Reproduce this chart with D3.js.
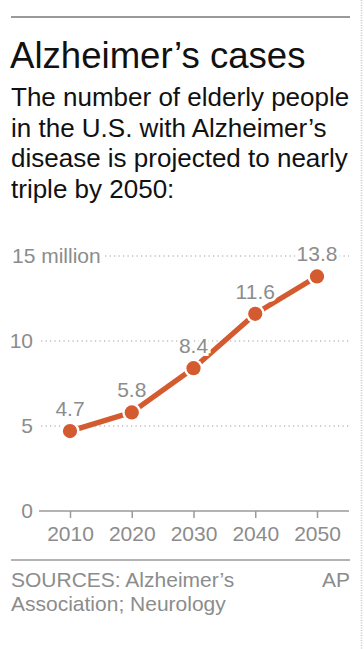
<!DOCTYPE html>
<html>
<head>
<meta charset="utf-8">
<script src="https://cdn.jsdelivr.net/npm/d3@7"></script>
<style>
  html, body { margin: 0; padding: 0; background: #fff; }
  svg { display: block; font-family: "Liberation Sans", Arial, sans-serif; }
</style>
</head>
<body>
<div id="chart"></div>
<script>
// data
var years = [2010, 2020, 2030, 2040, 2050];
var cases = [4.7, 5.8, 8.4, 11.6, 13.8]; // millions
var yTicks = [0, 5, 10, 15];
var subtitleLines = [
    "The number of elderly people",
    "in the U.S. with Alzheimer\u2019s",
    "disease is projected to nearly",
    "triple by 2050:"
];
var sourceLines = ["SOURCES: Alzheimer\u2019s", "Association; Neurology"];

var width = 364,
    height = 649,
    orange = "#d45a30",
    gray = "#8c8c8c",
    ruleGray = "#9a9a9a";

var svg = d3.select("#chart").append("svg")
    .attr("width", width)
    .attr("height", height);

// bordure pointillée à droite
svg.append("line")
    .attr("x1", 361.5).attr("x2", 361.5)
    .attr("y1", 0).attr("y2", height)
    .attr("stroke", "#c8c8c8")
    .attr("stroke-width", 1.5)
    .attr("stroke-dasharray", "1,1.5");

// filet du haut
svg.append("line")
    .attr("x1", 11).attr("x2", 350)
    .attr("y1", 17).attr("y2", 17)
    .attr("stroke", ruleGray)
    .attr("stroke-width", 2);

// titre
svg.append("text")
    .attr("x", 10)
    .attr("y", 68)
    .attr("font-size", 36.6)
    .attr("fill", "#111")
    .text("Alzheimer\u2019s cases");

svg.selectAll("text.sub")
    .data(subtitleLines)
    .enter()
    .append("text")
    .attr("class", "sub")
    .attr("x", 11)
    .attr("y", function(d, i) { return 106 + i * 30.7; })
    .attr("font-size", 26)
    .attr("fill", "#111")
    .text(function(d) { return d; });

// echelles
var x = d3.scaleLinear().domain([2010, 2050]).range([70, 317]);
var y = d3.scaleLinear().domain([0, 15]).range([511, 256]);

// grille pointillée
svg.selectAll("line.grid")
    .data(yTicks.filter(function(d) { return d > 0; }))
    .enter()
    .append("line")
    .attr("class", "grid")
    .attr("x1", function(d) { return d === 15 ? 105 : 41; })
    .attr("x2", 349)
    .attr("y1", function(d) { return y(d); })
    .attr("y2", function(d) { return y(d); })
    .attr("stroke", "#9c9c9c")
    .attr("stroke-width", 1.2)
    .attr("stroke-dasharray", "1.2,3.3");

// axe du zero
svg.append("line")
    .attr("x1", 39).attr("x2", 349)
    .attr("y1", y(0)).attr("y2", y(0))
    .attr("stroke", ruleGray)
    .attr("stroke-width", 1.5);

// axe y
var yAxis = svg.append("g")
    .attr("transform", "translate(36,0)")
    .call(d3.axisLeft(y).tickValues(yTicks).tickSize(0).tickPadding(3));
yAxis.select(".domain").remove();
yAxis.selectAll("text")
    .attr("font-size", 21)
    .attr("font-family", "Liberation Sans, Arial, sans-serif")
    .attr("fill", gray);
yAxis.selectAll(".tick")
    .filter(function(d) { return d === 15; })
    .select("text")
    .attr("text-anchor", "start")
    .attr("x", -24)
    .text("15 million");

// axe x
var xAxis = svg.append("g")
    .attr("transform", "translate(0," + y(0) + ")")
    .call(d3.axisBottom(x).tickValues(years).tickFormat(d3.format("d")).tickSize(7).tickPadding(8));
xAxis.select(".domain").remove();
xAxis.selectAll("line")
    .attr("stroke", ruleGray)
    .attr("stroke-width", 1.5);
xAxis.selectAll("text")
    .attr("font-size", 21)
    .attr("font-family", "Liberation Sans, Arial, sans-serif")
    .attr("fill", gray);

// ligne
var pts = years.map(function(yr, i) { return {year: yr, value: cases[i]}; });

var line = d3.line()
    .x(function(d) { return x(d.year); })
    .y(function(d) { return y(d.value); });

svg.append("path")
    .datum(pts)
    .attr("d", line)
    .attr("fill", "none")
    .attr("stroke", orange)
    .attr("stroke-width", 5.3);

// ronds avec halo blanc
svg.selectAll("circle.halo")
    .data(pts)
    .enter()
    .append("circle")
    .attr("class", "halo")
    .attr("cx", function(d) { return x(d.year); })
    .attr("cy", function(d) { return y(d.value); })
    .attr("r", 9.5)
    .attr("fill", "#fff");

svg.selectAll("circle.dot")
    .data(pts)
    .enter()
    .append("circle")
    .attr("class", "dot")
    .attr("cx", function(d) { return x(d.year); })
    .attr("cy", function(d) { return y(d.value); })
    .attr("r", 7.1)
    .attr("fill", orange);

// etiquettes de valeurs
svg.selectAll("text.val")
    .data(pts)
    .enter()
    .append("text")
    .attr("class", "val")
    .attr("x", function(d) { return x(d.year); })
    .attr("y", function(d) { return y(d.value) - 15; })
    .attr("text-anchor", "middle")
    .attr("font-size", 21)
    .attr("fill", gray)
    .attr("stroke", "#fff")
    .attr("stroke-width", 6)
    .attr("paint-order", "stroke")
    .text(function(d) { return d3.format(".1f")(d.value); });

// filet du bas + sources
svg.append("line")
    .attr("x1", 11).attr("x2", 350)
    .attr("y1", 560).attr("y2", 560)
    .attr("stroke", ruleGray)
    .attr("stroke-width", 1.5);

svg.selectAll("text.src")
    .data(sourceLines)
    .enter()
    .append("text")
    .attr("class", "src")
    .attr("x", 11)
    .attr("y", function(d, i) { return 587 + i * 24; })
    .attr("font-size", 21)
    .attr("fill", gray)
    .text(function(d) { return d; });

svg.append("text")
    .attr("x", 350)
    .attr("y", 587)
    .attr("text-anchor", "end")
    .attr("font-size", 21)
    .attr("fill", gray)
    .text("AP");
</script>
</body>
</html>
